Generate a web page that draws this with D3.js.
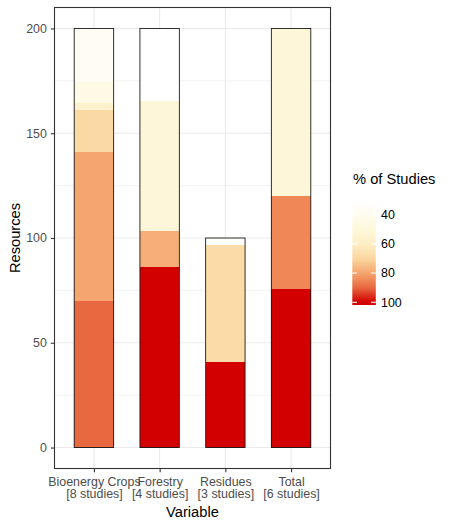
<!DOCTYPE html>
<html>
<head>
<meta charset="utf-8">
<script src="https://cdn.jsdelivr.net/npm/d3@7"></script>
<style>
  body { margin: 0; background: #fff; }
  svg { font-family: "Liberation Sans", Arial, sans-serif; }
</style>
</head>
<body>
<div class="container"></div>
<script>
// categories and study counts (x labels)
const categories = ["Bioenergy Crops", "Forestry", "Residues", "Total"];
const studyCounts = [8, 4, 3, 6];

// stacked resources per category (bottom to top) and % of studies for each piece
const bioenergyResources = [70, 71, 20, 3.5, 10, 25.5];
const bioenergyPct = [90, 80, 69, 57, 45, 37];
const forestryResources = [86, 17.5, 62, 34.5];
const forestryPct = [100, 78, 52, 30];
const residuesResources = [41, 55.5, 3.5];
const residuesPct = [100, 68, 33];
const totalResources = [75.5, 44.5, 80];
const totalPct = [100, 85, 52];

// colour scale stops
const pctStops = [30, 40, 50, 60, 70, 80, 90, 100];
const pctColours = ["#FFFFFF", "#FFFBEE", "#FEF8DC", "#FDEFC6", "#FBD7A0", "#F5A56E", "#E86840", "#D20000"];

const yTicks = [0, 50, 100, 150, 200];
const yMinor = [25, 75, 125, 175];
const legendTicks = [40, 60, 80, 100];

const resources = [bioenergyResources, forestryResources, residuesResources, totalResources];
const pcts = [bioenergyPct, forestryPct, residuesPct, totalPct];

// Set up chart
const svgWidth = 450, svgHeight = 525;
const panel = { left: 54.5, top: 7.5, right: 330.5, bottom: 468.5 };
const tickFont = "12.4px";

const svg = d3.select(".container")
    .append("svg")
    .attr("width", svgWidth)
    .attr("height", svgHeight);

const x = d3.scalePoint()
    .domain(categories)
    .range([panel.left, panel.right])
    .padding(0.6);
const barWidth = x.step() * 0.6;

const y = d3.scaleLinear()
    .domain([-10, 210])
    .range([panel.bottom, panel.top]);

const fill = d3.scaleLinear()
    .domain(pctStops)
    .range(pctColours)
    .clamp(true);

// grid
const grid = svg.append("g");
grid.selectAll(".minor")
    .data(yMinor)
    .enter().append("line")
    .attr("x1", panel.left).attr("x2", panel.right)
    .attr("y1", d => y(d)).attr("y2", d => y(d))
    .attr("stroke", "#EBEBEB").attr("stroke-width", 0.6);
grid.selectAll(".major")
    .data(yTicks)
    .enter().append("line")
    .attr("x1", panel.left).attr("x2", panel.right)
    .attr("y1", d => y(d)).attr("y2", d => y(d))
    .attr("stroke", "#EBEBEB").attr("stroke-width", 1.1);
grid.selectAll(".vmajor")
    .data(categories)
    .enter().append("line")
    .attr("x1", d => x(d)).attr("x2", d => x(d))
    .attr("y1", panel.top).attr("y2", panel.bottom)
    .attr("stroke", "#EBEBEB").attr("stroke-width", 1.1);

// stacked bars
categories.forEach(function(cat, i) {
    let base = 0;
    const pieces = resources[i].map(function(v, j) {
        const p = { y0: base, y1: base + v, pct: pcts[i][j] };
        base += v;
        return p;
    });
    const g = svg.append("g");
    g.selectAll("rect")
        .data(pieces)
        .enter().append("rect")
        .attr("x", x(cat) - barWidth / 2)
        .attr("width", barWidth)
        .attr("y", d => y(d.y1))
        .attr("height", d => y(d.y0) - y(d.y1))
        .attr("fill", d => fill(d.pct))
        .attr("shape-rendering", "crispEdges");
    // outline for the whole column
    g.append("rect")
        .attr("x", x(cat) - barWidth / 2)
        .attr("width", barWidth)
        .attr("y", y(base))
        .attr("height", y(0) - y(base))
        .attr("fill", "none")
        .attr("stroke", "#1a1a1a")
        .attr("stroke-width", 0.9);
});

// panel border
svg.append("rect")
    .attr("x", panel.left).attr("y", panel.top)
    .attr("width", panel.right - panel.left)
    .attr("height", panel.bottom - panel.top)
    .attr("fill", "none")
    .attr("stroke", "#333333")
    .attr("stroke-width", 1.1);

// axes
const leftAxis = d3.axisLeft(y).tickValues(yTicks).tickSize(3.7).tickPadding(4);
const yAxis = svg.append("g")
    .attr("transform", `translate(${panel.left},0)`)
    .call(leftAxis);
yAxis.select(".domain").remove();
yAxis.selectAll("line").attr("stroke", "#333333").attr("stroke-width", 1.1);
yAxis.selectAll("text")
    .attr("fill", "#4D4D4D")
    .style("font-size", tickFont)
    .style("font-family", "Liberation Sans, Arial, sans-serif");

const bottomAxis = d3.axisBottom(x).tickSize(3.7).tickPadding(3);
const xAxis = svg.append("g")
    .attr("transform", `translate(0,${panel.bottom})`)
    .call(bottomAxis);
xAxis.select(".domain").remove();
xAxis.selectAll("line").attr("stroke", "#333333").attr("stroke-width", 1.1);
xAxis.selectAll("text").each(function(d, i) {
    const t = d3.select(this).text(null)
        .attr("fill", "#4D4D4D")
        .attr("dy", null)
        .attr("y", 17.2)
        .style("font-size", tickFont)
        .style("font-family", "Liberation Sans, Arial, sans-serif");
    t.append("tspan").attr("x", 0).text(d);
    t.append("tspan").attr("x", 0).attr("dy", 12.4).text(`[${studyCounts[i]} studies]`);
});

// axis titles
svg.append("text")
    .attr("x", (panel.left + panel.right) / 2)
    .attr("y", 517)
    .attr("text-anchor", "middle")
    .style("font-size", "14.7px")
    .text("Variable");

svg.append("text")
    .attr("transform", `translate(20,${(panel.top + panel.bottom) / 2}) rotate(-90)`)
    .attr("text-anchor", "middle")
    .style("font-size", "14.7px")
    .text("Resources");

// legend
const legend = svg.append("g");
legend.append("text")
    .attr("x", 353)
    .attr("y", 184)
    .style("font-size", "14.7px")
    .text("% of Studies");

const barTop = 197.3, barBottom = 305, barLeft = 352.3, barW = 23.5;
const ly = d3.scaleLinear().domain([30, 100]).range([200, 302.3]);

const grad = svg.append("defs").append("linearGradient")
    .attr("id", "pctGrad")
    .attr("x1", 0).attr("x2", 0).attr("y1", 0).attr("y2", 1);
d3.range(0, 1.0001, 0.02).forEach(function(f) {
    const yy = barTop + f * (barBottom - barTop);
    grad.append("stop")
        .attr("offset", f)
        .attr("stop-color", fill(ly.invert(yy)));
});
legend.append("rect")
    .attr("x", barLeft).attr("y", barTop)
    .attr("width", barW).attr("height", barBottom - barTop)
    .attr("fill", "url(#pctGrad)");

legendTicks.forEach(function(t) {
    legend.append("line")
        .attr("x1", barLeft).attr("x2", barLeft + barW / 5)
        .attr("y1", ly(t)).attr("y2", ly(t))
        .attr("stroke", "#fff").attr("stroke-width", 1.1);
    legend.append("line")
        .attr("x1", barLeft + barW).attr("x2", barLeft + barW * 4 / 5)
        .attr("y1", ly(t)).attr("y2", ly(t))
        .attr("stroke", "#fff").attr("stroke-width", 1.1);
    legend.append("text")
        .attr("x", 381)
        .attr("y", ly(t))
        .attr("dy", "0.35em")
        .style("font-size", tickFont)
        .text(t);
});
</script>
</body>
</html>
